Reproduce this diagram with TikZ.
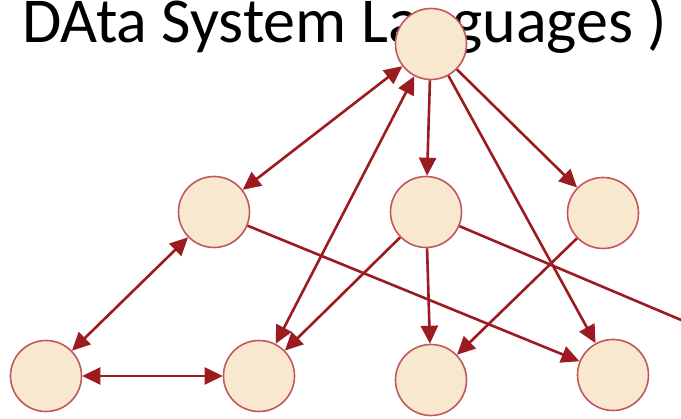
\documentclass[tikz,border=0pt]{standalone}
\usepackage{fontspec}
\setmainfont{Carlito}
\usetikzlibrary{arrows.meta}
\definecolor{edgered}{HTML}{9B1B20}
\definecolor{nodefill}{HTML}{F8E8CF}
\definecolor{noderim}{HTML}{C2585E}
\tikzset{
  vertex/.style={circle, draw=noderim, fill=nodefill, line width=1.6pt, minimum size=71pt, inner sep=0pt},
  link/.style={draw=edgered, line width=2.6pt, -{Triangle[length=18pt,width=17pt]}},
  biLink/.style={draw=edgered, line width=2.6pt, {Triangle[length=18pt,width=17pt]}-{Triangle[length=18pt,width=17pt]}},
  plain/.style={draw=edgered, line width=2.6pt}
}
\begin{document}
\begin{tikzpicture}[x=1pt, y=-1pt]
  \useasboundingbox (0,0) rectangle (681,419);
  \clip (0,0) rectangle (681,419);
  \fill[white] (0,0) rectangle (681,419);

  % heading, partly above the top edge
  \node[anchor=base west, inner sep=0pt, font=\fontsize{64}{70}\selectfont] (title) at (22,43) {DAta System Languages )};

  % vertices
  \node[vertex] (top) at (431,44) {};
  \node[vertex] (ml) at (214,212) {};
  \node[vertex] (mc) at (426,212) {};
  \node[vertex] (mr) at (603,213) {};
  \node[vertex] (b1) at (46,376) {};
  \node[vertex] (b2) at (259,376) {};
  \node[vertex] (b3) at (431,380) {};
  \node[vertex] (b4) at (613,375) {};
  \coordinate (off) at (700,328);

  % connectors
  \draw[biLink] (top) -- (ml);
  \draw[biLink] (top) -- (b2);
  \draw[link] (top) -- (mc);
  \draw[link] (top) -- (mr);
  \draw[link] (top) -- (b4);
  \draw[biLink] (ml) -- (b1);
  \draw[biLink] (b1) -- (b2);
  \draw[link] (ml) -- (b4);
  \draw[link] (mc) -- (b2);
  \draw[link] (mc) -- (b3);
  \draw[plain] (mc) -- (off);
  \draw[link] (mr) -- (b3);
\end{tikzpicture}
\end{document}
